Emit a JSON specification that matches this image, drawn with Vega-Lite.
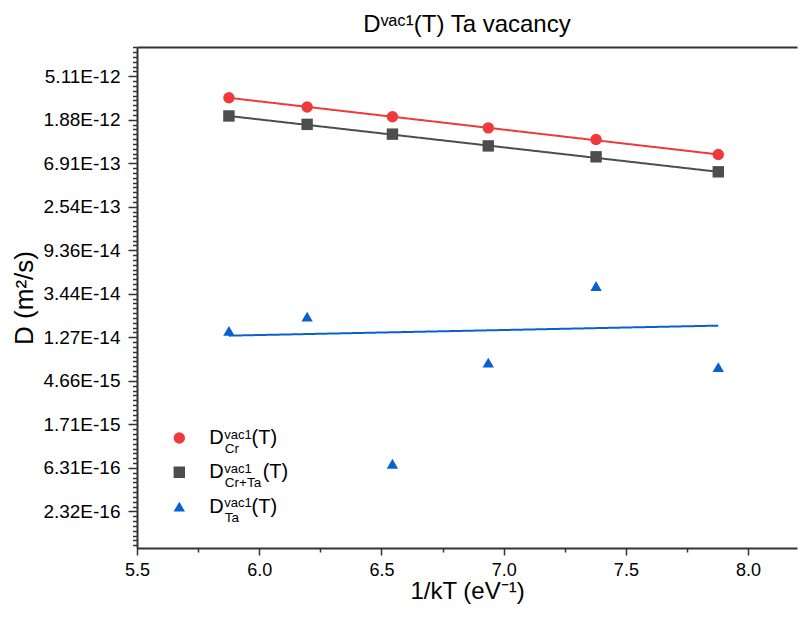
{
  "$schema": "https://vega.github.io/schema/vega-lite/v6.json",
  "width": 660,
  "height": 501,
  "autosize": {"type": "none"},
  "padding": {"left": 137, "top": 47, "right": 3, "bottom": 73},
  "background": "white",
  "title": {"text": "Dᵛᵃᶜ¹(T) Ta vacancy", "font": "Liberation Sans", "fontSize": 24, "fontWeight": "normal", "color": "black", "offset": 1, "anchor": "middle"},
  "config": {
    "view": {"stroke": null},
    "font": "Liberation Sans",
    "legend": {"labelFont": "Liberation Sans", "labelColor": "black", "padding": 0, "offset": 0}
  },
  "datasets": {
    "points": [
      {"series": "Cr", "x": 5.876, "D": 3.11e-12},
      {"series": "Cr", "x": 6.196, "D": 2.52e-12},
      {"series": "Cr", "x": 6.545, "D": 2.01e-12},
      {"series": "Cr", "x": 6.937, "D": 1.56e-12},
      {"series": "Cr", "x": 7.378, "D": 1.195e-12},
      {"series": "Cr", "x": 7.878, "D": 8.47e-13},
      {"series": "Cr+Ta", "x": 5.876, "D": 2.05e-12},
      {"series": "Cr+Ta", "x": 6.196, "D": 1.69e-12},
      {"series": "Cr+Ta", "x": 6.545, "D": 1.35e-12},
      {"series": "Cr+Ta", "x": 6.937, "D": 1.03e-12},
      {"series": "Cr+Ta", "x": 7.378, "D": 8.02e-13},
      {"series": "Cr+Ta", "x": 7.878, "D": 5.68e-13},
      {"series": "Ta", "x": 5.876, "D": 1.47e-14},
      {"series": "Ta", "x": 6.196, "D": 2.04e-14},
      {"series": "Ta", "x": 6.545, "D": 6.93e-16},
      {"series": "Ta", "x": 6.937, "D": 7.09e-15},
      {"series": "Ta", "x": 7.378, "D": 4.12e-14},
      {"series": "Ta", "x": 7.878, "D": 6.38e-15}
    ],
    "fits": [
      {"series": "Cr", "x": 5.876, "D": 3.11e-12},
      {"series": "Cr", "x": 7.878, "D": 8.47e-13},
      {"series": "Cr+Ta", "x": 5.876, "D": 2.05e-12},
      {"series": "Cr+Ta", "x": 7.878, "D": 5.68e-13},
      {"series": "Ta", "x": 5.876, "D": 1.316e-14},
      {"series": "Ta", "x": 7.878, "D": 1.657e-14}
    ]
  },
  "layer": [
    {
      "data": {"name": "fits"},
      "mark": {"type": "line", "strokeWidth": 2},
      "encoding": {
        "x": {
          "field": "x", "type": "quantitative",
          "scale": {"domain": [5.5, 8.2], "nice": false, "zero": false},
          "axis": {
            "orient": "bottom",
            "values": [5.5, 5.75, 6, 6.25, 6.5, 6.75, 7, 7.25, 7.5, 7.75, 8],
            "labelExpr": "datum.value * 2 == round(datum.value * 2) ? format(datum.value, '.1f') : ''",
            "tickSize": {"condition": {"test": "datum.value * 2 == round(datum.value * 2)", "value": 7}, "value": 4},
            "title": "1/kT (eV⁻¹)",
            "grid": false,
            "labelFont": "Liberation Sans", "labelFontSize": 18, "labelColor": "black", "labelPadding": 6,
            "labelOverlap": false, "labelFlush": false,
            "titleFont": "Liberation Sans", "titleFontSize": 24, "titleFontWeight": "normal", "titleColor": "black", "titlePadding": 0,
            "domainColor": "#333333", "domainWidth": 2, "tickColor": "#333333", "tickWidth": 1.5
          }
        },
        "y": {
          "field": "D", "type": "quantitative",
          "scale": {"type": "log", "base": 2.718281828459045, "domain": [1e-16, 1e-11], "nice": false, "zero": false},
          "axis": {
            "orient": "left",
            "values": {"expr": "[exp(-228/9),exp(-229/9),exp(-230/9),exp(-231/9),exp(-232/9),exp(-233/9),exp(-234/9),exp(-235/9),exp(-236/9),exp(-237/9),exp(-238/9),exp(-239/9),exp(-240/9),exp(-241/9),exp(-242/9),exp(-243/9),exp(-244/9),exp(-245/9),exp(-246/9),exp(-247/9),exp(-248/9),exp(-249/9),exp(-250/9),exp(-251/9),exp(-252/9),exp(-253/9),exp(-254/9),exp(-255/9),exp(-256/9),exp(-257/9),exp(-258/9),exp(-259/9),exp(-260/9),exp(-261/9),exp(-262/9),exp(-263/9),exp(-264/9),exp(-265/9),exp(-266/9),exp(-267/9),exp(-268/9),exp(-269/9),exp(-270/9),exp(-271/9),exp(-272/9),exp(-273/9),exp(-274/9),exp(-275/9),exp(-276/9),exp(-277/9),exp(-278/9),exp(-279/9),exp(-280/9),exp(-281/9),exp(-282/9),exp(-283/9),exp(-284/9),exp(-285/9),exp(-286/9),exp(-287/9),exp(-288/9),exp(-289/9),exp(-290/9),exp(-291/9),exp(-292/9),exp(-293/9),exp(-294/9),exp(-295/9),exp(-296/9),exp(-297/9),exp(-298/9),exp(-299/9),exp(-300/9),exp(-301/9),exp(-302/9),exp(-303/9),exp(-304/9),exp(-305/9),exp(-306/9),exp(-307/9),exp(-308/9),exp(-309/9),exp(-310/9),exp(-311/9),exp(-312/9),exp(-313/9),exp(-314/9),exp(-315/9),exp(-316/9),exp(-317/9),exp(-318/9),exp(-319/9),exp(-320/9),exp(-321/9),exp(-322/9),exp(-323/9),exp(-324/9),exp(-325/9),exp(-326/9),exp(-327/9),exp(-328/9),exp(-329/9),exp(-330/9),exp(-331/9)]"},
            "labelExpr": "abs(log(datum.value) - round(log(datum.value))) < 0.01 ? upper(format(datum.value, '.2e')) : ''",
            "tickSize": {"condition": {"test": "abs(log(datum.value) - round(log(datum.value))) < 0.01", "value": 9}, "value": 4.5},
            "title": "D (m²/s)",
            "grid": false,
            "labelFont": "Liberation Sans", "labelFontSize": 19, "labelColor": "black", "labelPadding": 8,
            "labelOverlap": false, "labelFlush": false,
            "titleFont": "Liberation Sans", "titleFontSize": 26, "titleFontWeight": "normal", "titleColor": "black", "titlePadding": 5,
            "domainColor": "#333333", "domainWidth": 2, "tickColor": "#333333", "tickWidth": 1.5
          }
        },
        "color": {
          "field": "series", "type": "nominal",
          "scale": {"domain": ["Cr", "Cr+Ta", "Ta"], "range": ["#ee3a3a", "#4d4d4d", "#0a60d0"]},
          "legend": {
            "orient": "none", "legendX": 74.3, "legendY": 377.5, "direction": "vertical",
            "title": null, "labelExpr": "'vac1'", "labelFontSize": 13,
            "symbolOpacity": 0, "symbolSize": 1, "labelOffset": 0,
            "rowPadding": 14.3, "clipHeight": 20
          }
        },
        "strokeDash": {
          "field": "series", "type": "nominal",
          "scale": {"range": [[1, 0], [1, 0], [1, 0]]},
          "legend": {
            "orient": "none", "legendX": 74.3, "legendY": 392, "direction": "vertical",
            "title": null, "labelFontSize": 13.5,
            "symbolOpacity": 0, "symbolSize": 1, "labelOffset": 0,
            "rowPadding": 14.3, "clipHeight": 20
          }
        }
      }
    },
    {
      "data": {"name": "points"},
      "mark": {"type": "point", "filled": true, "size": 130, "opacity": 1},
      "encoding": {
        "x": {
          "field": "x", "type": "quantitative",
          "scale": {"domain": [5.5, 8.2], "nice": false, "zero": false},
          "axis": {"orient": "top", "domain": true, "ticks": false, "labels": false, "title": null, "grid": false, "domainColor": "#333333", "domainWidth": 2}
        },
        "y": {"field": "D", "type": "quantitative"},
        "color": {
          "field": "series", "type": "nominal",
          "legend": {
            "orient": "none", "legendX": 32.3, "legendY": 381, "direction": "vertical",
            "title": null,
            "labelExpr": "datum.label == 'Cr' ? 'D\u00a0\u00a0\u00a0\u00a0\u00a0(T)' : datum.label == 'Cr+Ta' ? 'D\u00a0\u00a0\u00a0\u00a0\u00a0\u00a0\u00a0(T)' : 'D\u00a0\u00a0\u00a0\u00a0\u00a0(T)'",
            "labelFontSize": 20, "symbolSize": 130, "labelOffset": 20,
            "rowPadding": 14.3, "clipHeight": 20
          }
        },
        "shape": {
          "field": "series", "type": "nominal",
          "scale": {"domain": ["Cr", "Cr+Ta", "Ta"], "range": ["circle", "square", "triangle-up"]},
          "legend": {
            "orient": "none", "legendX": 32.3, "legendY": 381, "direction": "vertical",
            "title": null,
            "labelExpr": "datum.label == 'Cr' ? 'D\u00a0\u00a0\u00a0\u00a0\u00a0(T)' : datum.label == 'Cr+Ta' ? 'D\u00a0\u00a0\u00a0\u00a0\u00a0\u00a0\u00a0(T)' : 'D\u00a0\u00a0\u00a0\u00a0\u00a0(T)'",
            "labelFontSize": 20, "symbolSize": 130, "labelOffset": 20,
            "rowPadding": 14.3, "clipHeight": 20
          }
        }
      }
    }
  ],
  "resolve": {
    "axis": {"x": "independent"},
    "legend": {"color": "independent", "shape": "independent", "strokeDash": "independent"}
  }
}
